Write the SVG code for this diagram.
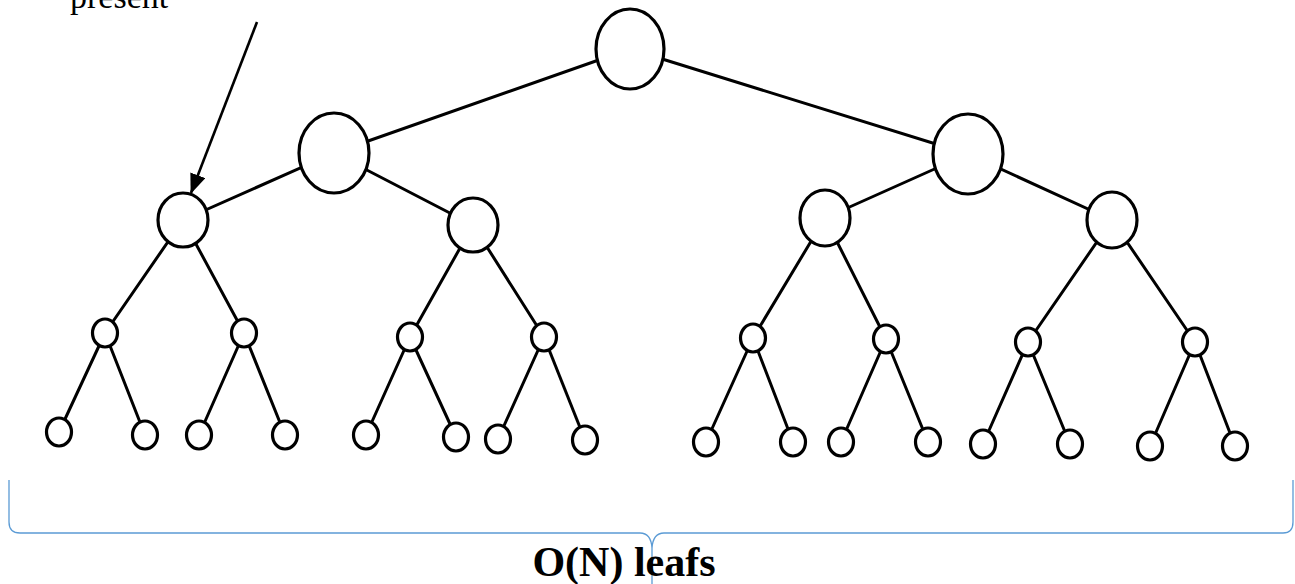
<svg xmlns="http://www.w3.org/2000/svg" width="1295" height="584" viewBox="0 0 1295 584">
<style>
.e{stroke:#000;stroke-width:3;fill:none;stroke-linecap:round}
.n{fill:#fff;stroke:#000;stroke-width:3.2}
.t{font-family:"Liberation Serif",serif;fill:#000}
</style>
<defs>
<clipPath id="cl"><rect x="0" y="0" width="1295" height="462"/></clipPath>
<marker id="ah" markerWidth="20" markerHeight="16" refX="19" refY="8" orient="auto" markerUnits="userSpaceOnUse" viewBox="0 0 20 16"><path d="M0,0 L20,8 L0,16 z" fill="#000"/></marker>
</defs>
<rect width="1295" height="584" fill="#fff"/>
<g clip-path="url(#cl)">
<g id="connectors">
<line class="e" x1="630" y1="49" x2="334" y2="153"/>
<line class="e" x1="630" y1="49" x2="968" y2="154"/>
<line class="e" x1="334" y1="153" x2="183" y2="220"/>
<line class="e" x1="334" y1="153" x2="473" y2="225"/>
<line class="e" x1="968" y1="154" x2="825" y2="218"/>
<line class="e" x1="968" y1="154" x2="1112" y2="220"/>
<line class="e" x1="183" y1="220" x2="105" y2="333"/>
<line class="e" x1="183" y1="220" x2="244" y2="333"/>
<line class="e" x1="473" y1="225" x2="410" y2="337"/>
<line class="e" x1="473" y1="225" x2="544" y2="337"/>
<line class="e" x1="825" y1="218" x2="753" y2="338"/>
<line class="e" x1="825" y1="218" x2="886" y2="339"/>
<line class="e" x1="1112" y1="220" x2="1028" y2="342"/>
<line class="e" x1="1112" y1="220" x2="1195" y2="342"/>
<line class="e" x1="105" y1="333" x2="59" y2="432"/>
<line class="e" x1="105" y1="333" x2="145" y2="435"/>
<line class="e" x1="244" y1="333" x2="199" y2="435"/>
<line class="e" x1="244" y1="333" x2="285" y2="435"/>
<line class="e" x1="410" y1="337" x2="366" y2="435"/>
<line class="e" x1="410" y1="337" x2="456" y2="437"/>
<line class="e" x1="544" y1="337" x2="498" y2="439"/>
<line class="e" x1="544" y1="337" x2="585" y2="440"/>
<line class="e" x1="753" y1="338" x2="706" y2="442"/>
<line class="e" x1="753" y1="338" x2="793" y2="442"/>
<line class="e" x1="886" y1="339" x2="841" y2="442"/>
<line class="e" x1="886" y1="339" x2="928" y2="442"/>
<line class="e" x1="1028" y1="342" x2="983" y2="444"/>
<line class="e" x1="1028" y1="342" x2="1070" y2="444"/>
<line class="e" x1="1195" y1="342" x2="1150" y2="446"/>
<line class="e" x1="1195" y1="342" x2="1235" y2="446"/>
</g>
<g id="root"><ellipse class="n" cx="630" cy="49" rx="34" ry="40"/></g>
<g id="n1l"><ellipse class="n" cx="334" cy="153" rx="35" ry="40"/></g>
<g id="n1r"><ellipse class="n" cx="968" cy="154" rx="35" ry="40"/></g>
<g id="n2a"><ellipse class="n" cx="183" cy="220" rx="25" ry="27"/></g>
<g id="n2b"><ellipse class="n" cx="473" cy="225" rx="25" ry="27"/></g>
<g id="n2c"><ellipse class="n" cx="825" cy="218" rx="25" ry="28"/></g>
<g id="n2d"><ellipse class="n" cx="1112" cy="220" rx="25" ry="28"/></g>
<g id="n3a"><ellipse class="n" cx="105" cy="333" rx="12.5" ry="14"/></g>
<g id="n3b"><ellipse class="n" cx="244" cy="333" rx="12.5" ry="14"/></g>
<g id="n3c"><ellipse class="n" cx="410" cy="337" rx="12.5" ry="14"/></g>
<g id="n3d"><ellipse class="n" cx="544" cy="337" rx="12.5" ry="14"/></g>
<g id="n3e"><ellipse class="n" cx="753" cy="338" rx="12.5" ry="14"/></g>
<g id="n3f"><ellipse class="n" cx="886" cy="339" rx="12.5" ry="14"/></g>
<g id="n3g"><ellipse class="n" cx="1028" cy="342" rx="12.5" ry="14"/></g>
<g id="n3h"><ellipse class="n" cx="1195" cy="342" rx="12.5" ry="14"/></g>
<g id="l1"><ellipse class="n" cx="59" cy="432" rx="12.5" ry="14"/></g>
<g id="l2"><ellipse class="n" cx="145" cy="435" rx="12.5" ry="14"/></g>
<g id="l3"><ellipse class="n" cx="199" cy="435" rx="12.5" ry="14"/></g>
<g id="l4"><ellipse class="n" cx="285" cy="435" rx="12.5" ry="14"/></g>
<g id="l5"><ellipse class="n" cx="366" cy="435" rx="12.5" ry="14"/></g>
<g id="l6"><ellipse class="n" cx="456" cy="437" rx="12.5" ry="14"/></g>
<g id="l7"><ellipse class="n" cx="498" cy="439" rx="12.5" ry="14"/></g>
<g id="l8"><ellipse class="n" cx="585" cy="440" rx="12.5" ry="14"/></g>
<g id="l9"><ellipse class="n" cx="706" cy="442" rx="12.5" ry="14"/></g>
<g id="l10"><ellipse class="n" cx="793" cy="442" rx="12.5" ry="14"/></g>
<g id="l11"><ellipse class="n" cx="841" cy="442" rx="12.5" ry="14"/></g>
<g id="l12"><ellipse class="n" cx="928" cy="442" rx="12.5" ry="14"/></g>
<g id="l13"><ellipse class="n" cx="983" cy="444" rx="12.5" ry="14"/></g>
<g id="l14"><ellipse class="n" cx="1070" cy="444" rx="12.5" ry="14"/></g>
<g id="l15"><ellipse class="n" cx="1150" cy="446" rx="12.5" ry="14"/></g>
<g id="l16"><ellipse class="n" cx="1235" cy="446" rx="12.5" ry="14"/></g>
</g>
<g id="annotation">
<text class="t" x="70" y="8" font-size="34">present</text>
<line x1="257" y1="22" x2="191" y2="193" stroke="#000" stroke-width="2.6" marker-end="url(#ah)"/>
</g>
<g id="brace">
<path d="M9,480 L9,522 Q9,533 20,533 L640,533 Q651,533 652,548 L652,584 M652,548 Q653,533 664,533 L1283,533 Q1293,533 1293,522 L1293,480" fill="none" stroke="#5B9BD5" stroke-width="1.3"/>
</g>
<text class="t" x="624" y="576" font-size="42" font-weight="bold" text-anchor="middle">O(N) leafs</text>
</svg>
